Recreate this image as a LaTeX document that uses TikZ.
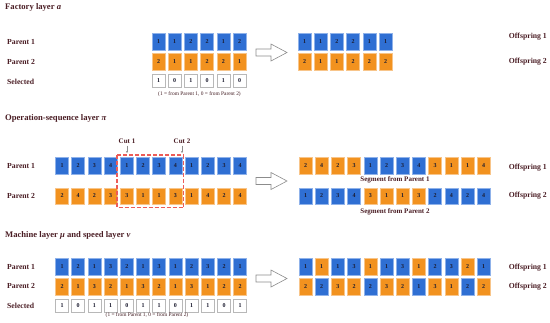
\documentclass[tikz,border=0pt]{standalone}
\usepackage{fontspec}
\setmainfont{Liberation Serif}
\usetikzlibrary{arrows.meta}
\definecolor{tcol}{HTML}{4A1D24}
\definecolor{cB}{HTML}{2F6FD3}
\definecolor{cO}{HTML}{F2921F}
\definecolor{dB}{HTML}{8FB2EA}
\definecolor{dO}{HTML}{F8C58A}
\definecolor{dig}{HTML}{1C1C30}
\tikzset{
 cell/.style={rectangle, inner sep=0pt, minimum width=13pt, minimum height=16.5pt,
   font=\fontsize{6}{7}\selectfont\bfseries, text=dig, line width=0.5pt},
 selcell/.style={cell, fill=white, draw=black!28, minimum height=13pt},
 title/.style={anchor=west, inner sep=0pt, font=\fontsize{8.6}{10}\selectfont\bfseries, text=tcol},
 lab/.style={anchor=west, inner sep=0pt, font=\fontsize{7.7}{9}\selectfont\bfseries, text=tcol},
 olab/.style={anchor=east, inner sep=0pt, font=\fontsize{7.7}{9}\selectfont\bfseries, text=tcol},
 note/.style={inner sep=0pt, font=\fontsize{5.4}{6}\selectfont, text=tcol!85!black},
 seg/.style={inner sep=0pt, font=\fontsize{7}{8}\selectfont\bfseries, text=tcol},
 bigarrow/.style={draw=black!45, fill=white, line width=0.6pt},
 cutarrow/.style={draw=black!45, line width=0.4pt, -{Stealth[length=2pt,width=2pt]}},
 cutbox/.style={draw={rgb,1:red,0.93;green,0.36;blue,0.34}, line width=1.1pt, dash pattern=on 4pt off 2pt},
}
\newcommand\cellrow[4]{\foreach \s/\v [count=\i] in {#4}
  \node[cell, fill=c\s, draw=d\s] (#1-\i) at ({#2+6.5+16.2*(\i-1)},#3) {\v};}
\newcommand\selrow[4]{\foreach \v [count=\i] in {#4}
  \node[selcell] (#1-\i) at ({#2+6.5+16.2*(\i-1)},#3) {\v};}
\newcommand\hollowarrow[1]{\draw[bigarrow] (256,#1-3.5) -- (271,#1-3.5) -- (271,#1-8.5)
  -- (287,#1) -- (271,#1+8.5) -- (271,#1+3.5) -- (256,#1+3.5) -- cycle;}
\begin{document}
\begin{tikzpicture}[x=1pt,y=-1pt]
\useasboundingbox (0,0) rectangle (550,322);
% ---------- Factory layer
\node[title] (t1) at (5,7) {Factory layer \textit{a}};
\node[lab] (a-p1) at (7,42) {Parent 1};
\node[lab] (a-p2) at (7,62) {Parent 2};
\node[lab] (a-sel) at (7,82) {Selected};
\cellrow{ap1}{152}{41.5}{B/1,B/1,B/2,B/2,B/1,B/2}
\cellrow{ap2}{152}{61.5}{O/2,O/1,O/1,O/2,O/2,O/1}
\selrow{asl}{152}{80.5}{1,0,1,0,1,0}
\node[note] (a-note) at (199.5,94) {(1 = from Parent 1, 0 = from Parent 2)};
\hollowarrow{52.5}
\cellrow{ao1}{298}{41.5}{B/1,B/1,B/2,B/2,B/1,B/1}
\cellrow{ao2}{298}{61.5}{O/2,O/1,O/1,O/2,O/2,O/2}
\node[olab] (a-o1) at (547,37) {Offspring 1};
\node[olab] (a-o2) at (547,62) {Offspring 2};
% ---------- Operation-sequence layer
\node[title] (t2) at (5,118) {Operation-sequence layer \textit{π}};
\node[lab] (p-p1) at (7,166) {Parent 1};
\node[lab] (p-p2) at (7,196) {Parent 2};
\cellrow{pp1}{55.5}{165.5}{B/1,B/2,B/3,B/4,B/1,B/2,B/3,B/4,B/1,B/2,B/3,B/4}
\cellrow{pp2}{55.5}{196}{O/2,O/4,O/2,O/3,O/3,O/1,O/1,O/3,O/1,O/4,O/2,O/4}
\draw[cutbox] (117,155) rectangle (183.5,207.5);
\node[seg] (cut1) at (127,141) {Cut 1};
\node[seg] (cut2) at (182,141) {Cut 2};
\coordinate (c1e) at (127,153);
\coordinate (c2e) at (182,153);
\draw[cutarrow] (cut1.south) ++(0,2) -- (c1e);
\draw[cutarrow] (cut2.south) ++(0,2) -- (c2e);
\hollowarrow{181}
\cellrow{po1}{299}{165.5}{O/2,O/4,O/2,O/3,B/1,B/2,B/3,B/4,O/3,O/1,O/1,O/4}
\cellrow{po2}{299}{196}{B/1,B/2,B/3,B/4,O/3,O/1,O/1,O/3,B/2,B/4,B/2,B/4}
\node[seg] (seg1) at (395,180) {Segment from Parent 1};
\node[seg] (seg2) at (395,212) {Segment from Parent 2};
\node[olab] (p-o1) at (547,168) {Offspring 1};
\node[olab] (p-o2) at (547,196) {Offspring 2};
% ---------- Machine and speed layer
\node[title] (t3) at (5,235) {Machine layer \textit{μ} and speed layer \textit{v}};
\node[lab] (m-p1) at (7,267) {Parent 1};
\node[lab] (m-p2) at (7,286) {Parent 2};
\node[lab] (m-sel) at (7,306) {Selected};
\cellrow{mp1}{55.5}{266.5}{B/1,B/2,B/1,B/3,B/2,B/1,B/3,B/1,B/2,B/3,B/2,B/1}
\cellrow{mp2}{55.5}{286.5}{O/2,O/1,O/3,O/2,O/1,O/3,O/2,O/1,O/3,O/1,O/2,O/2}
\selrow{msl}{55.5}{305.5}{1,0,1,1,0,1,1,0,1,1,0,1}
\node[note] (m-note) at (147,315.5) {(1 = from Parent 1, 0 = from Parent 2)};
\hollowarrow{278.5}
\cellrow{mo1}{299}{266.5}{B/1,O/1,B/1,B/3,O/1,B/1,B/3,O/1,B/2,B/3,O/2,B/1}
\cellrow{mo2}{299}{286.5}{O/2,B/2,O/3,O/2,B/2,O/3,O/2,B/1,O/3,O/1,B/2,O/2}
\node[olab] (m-o1) at (547,268) {Offspring 1};
\node[olab] (m-o2) at (547,287) {Offspring 2};
\end{tikzpicture}
\end{document}
